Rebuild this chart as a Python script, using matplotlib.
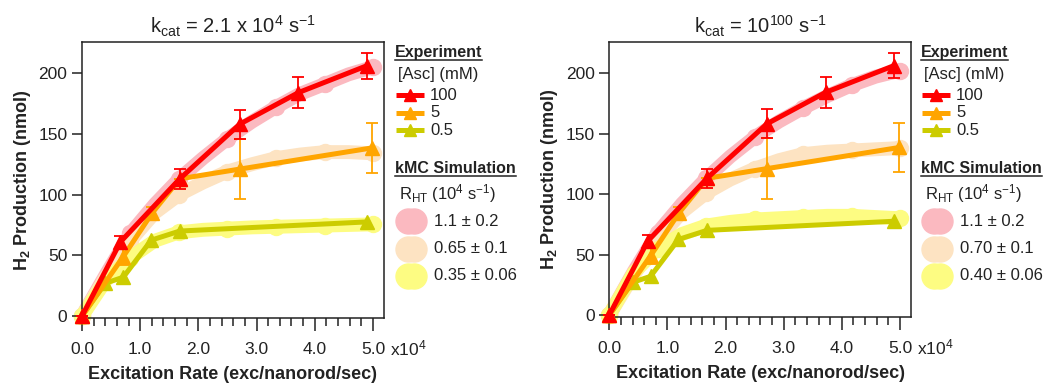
import numpy as np
import matplotlib
matplotlib.use("Agg")
import matplotlib.pyplot as plt
from matplotlib.lines import Line2D
from matplotlib.ticker import MultipleLocator

plt.rcParams['font.family'] = ['Liberation Sans', 'DejaVu Sans']
plt.rcParams['mathtext.fontset'] = 'custom'
plt.rcParams['mathtext.rm'] = 'Liberation Sans'
plt.rcParams['mathtext.it'] = 'Liberation Sans'
plt.rcParams['mathtext.bf'] = 'Liberation Sans:bold'

# experiment data (excitation rate in 1e4 exc/nanorod/sec, H2 in nmol)
x_100 = [0, 0.66, 1.68, 2.71, 3.72, 4.89]
y_100 = [0, 61, 113, 158, 184, 206]
e_100 = [0, 5, 8, 12, 13, 10.5]

x_5 = [0, 0.71, 1.2, 1.68, 2.71, 4.99]
y_5 = [0, 49, 84.5, 113, 121, 138.5]
e_5 = [0, 7, 5, 0, 25, 20.5]

x_05 = [0, 0.40, 0.71, 1.19, 1.68, 4.89]
y_05 = [0, 27, 32, 62.5, 70, 77.5]

# kMC simulation
x_sim = [0, 0.42, 0.83, 1.25, 1.67, 2.08, 2.5, 2.92, 3.33, 3.75, 4.17, 4.58, 5.0]
sim_pink = [0, 35, 68, 92, 113, 130, 146, 160, 172, 183, 191, 199, 205]
sim_peach_a = [0, 33, 62, 85, 100, 110, 119, 125, 130, 133, 135, 135, 134]
sim_yellow_a = [0, 30, 48, 62, 69, 71, 72, 73, 73.5, 74, 74.5, 75, 75.5]
sim_pink_b = [0, 36, 68, 92, 113, 131, 147, 160, 171, 181, 190, 197, 202]
sim_peach_b = [0, 33, 62, 85, 101, 112, 121, 128, 133, 135, 136, 137, 138]
sim_yellow_b = [0, 35, 55, 67, 74, 77, 79, 80, 81, 82, 82, 81, 80]

titles = [r'k$_{\mathrm{cat}}$ = 2.1 x 10$^{4}$ s$^{-1}$',
          r'k$_{\mathrm{cat}}$ = 10$^{100}$ s$^{-1}$']
sim_labels = [['1.1 ± 0.2', '0.65 ± 0.1', '0.35 ± 0.06'],
              ['1.1 ± 0.2', '0.70 ± 0.1', '0.40 ± 0.06']]
exp_labels = ['100', '5', '0.5']

c_red, c_orange, c_olive = '#ff0000', '#ffa500', '#cccc00'
c_pink, c_peach, c_yellow = '#fbb9c0', '#fde3c2', '#fdfc82'

W, H = 1043, 383
fig = plt.figure(figsize=(W / 100, H / 100), dpi=100)


def fx(px):
    return px / W


def fy(py):
    return 1 - py / H


axes_px = [(82, 384, 42.3, 318), (609.3, 911, 42.3, 317)]
sims = [(sim_pink, sim_peach_a, sim_yellow_a), (sim_pink_b, sim_peach_b, sim_yellow_b)]

for i, (l, r, t, b) in enumerate(axes_px):
    ax = fig.add_axes([fx(l), fy(b), (r - l) / W, (b - t) / H])
    ax.set_xlim(0, 5.19)
    ax.set_ylim(-1.6, 225.4)

    for ys, col in zip(sims[i], [c_pink, c_peach, c_yellow]):
        ax.plot(x_sim, ys, color=col, lw=10, marker='o', ms=11.5, markevery=2,
                solid_capstyle='round', zorder=1, clip_on=False)

    ax.plot(x_05, y_05, color=c_olive, lw=3.6, marker='^', ms=10, zorder=3, clip_on=False)
    ax.errorbar(x_5, y_5, yerr=e_5, color=c_orange, lw=3.6, marker='^', ms=10,
                elinewidth=1.3, capsize=4, capthick=1.3, zorder=4, clip_on=False)
    ax.errorbar(x_100, y_100, yerr=e_100, color=c_red, lw=3.6, marker='^', ms=10,
                elinewidth=1.3, capsize=4, capthick=1.3, zorder=5, clip_on=False)

    ax.xaxis.set_minor_locator(MultipleLocator(0.2))
    ax.yaxis.set_major_locator(MultipleLocator(50))
    ax.set_xticks([0, 1, 2, 3, 4, 5])
    ax.set_xticklabels(['0.0', '1.0', '2.0', '3.0', '4.0', '5.0'])
    ax.tick_params(axis='both', which='major', direction='out', length=7, width=1.1,
                   labelsize=12.5, color='#222222', labelcolor='#222222')
    ax.tick_params(axis='x', which='major', length=9, pad=8)
    ax.tick_params(axis='x', which='minor', direction='out', length=5.5, width=1.1,
                   color='#222222')
    for sp in ax.spines.values():
        sp.set_linewidth(1.1)
        sp.set_color('#222222')

    ax.set_title(titles[i], fontsize=14.5, pad=6, color='#222222')
    ax.set_xlabel('Excitation Rate (exc/nanorod/sec)', fontsize=13, fontweight='bold',
                  labelpad=7, color='#222222')
    ax.set_ylabel(r'H$_\mathbf{2}$ Production (nmol)', fontsize=13, fontweight='bold',
                  labelpad=4, color='#222222')
    ax.text(1.02, -0.11, r'x10$^{4}$', transform=ax.transAxes, fontsize=12.5,
            ha='left', va='center', color='#222222')

    # legend drawn by hand
    lx = r + 11 if i == 0 else r + 10
    renderer = fig.canvas.get_renderer()
    for txt, ty in [('Experiment', 52.7), ('kMC Simulation', 168.5)]:
        tt = fig.text(fx(lx), fy(ty), txt, fontsize=11.5, fontweight='bold',
                      ha='left', va='center', color='#222222')
        bb = tt.get_window_extent(renderer)
        uy = fy(ty + 7)
        fig.add_artist(Line2D([bb.x0 / W, bb.x1 / W], [uy, uy], transform=fig.transFigure,
                              color='#222222', lw=1.1))
    fig.text(fx(lx + 2.5), fy(75), '[Asc] (mM)', fontsize=12, ha='left', va='center',
             color='#222222')
    fig.text(fx(lx + 4), fy(194), r'R$_{\mathrm{HT}}$ (10$^{4}$ s$^{-1}$)', fontsize=12,
             ha='left', va='center', color='#222222')
    for k, (lab, col) in enumerate(zip(exp_labels, [c_red, c_orange, c_olive])):
        yy = fy(95 + 17.7 * k)
        fig.add_artist(Line2D([fx(lx + 1), fx(lx + 15), fx(lx + 29)], [yy, yy, yy],
                              transform=fig.transFigure, color=col, lw=3.6,
                              marker='^', ms=8, markevery=[1], solid_capstyle='butt'))
        fig.text(fx(lx + 35), yy, lab, fontsize=12, ha='left', va='center', color='#222222')
    for k, (lab, col) in enumerate(zip(sim_labels[i], [c_pink, c_peach, c_yellow])):
        yy = fy(221 + 27.5 * k)
        fig.add_artist(Line2D([fx(lx + 13), fx(lx + 19)], [yy, yy],
                              transform=fig.transFigure, color=col, lw=13,
                              marker='o', ms=18, solid_capstyle='butt'))
        fig.text(fx(lx + 39), yy, lab, fontsize=12, ha='left', va='center', color='#222222')

fig.savefig('out.png', dpi=100)
